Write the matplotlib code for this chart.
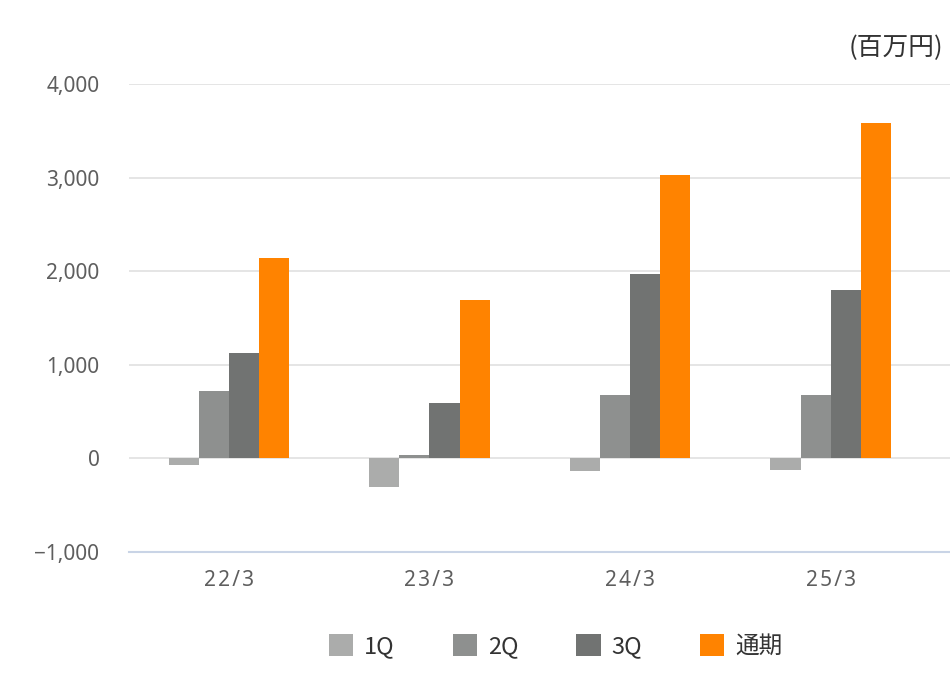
import matplotlib
matplotlib.use("Agg")
import matplotlib.pyplot as plt
from matplotlib.ticker import FuncFormatter
from matplotlib.patches import Patch
import numpy as np

plt.rcParams['font.family'] = ['Noto Sans CJK JP', 'DejaVu Sans']

categories = ["22/3", "23/3", "24/3", "25/3"]
series_names = ["1Q", "2Q", "3Q", "通期"]
q1 = [-75, -309, -137, -119]
q2 = [722, 32, 679, 679]
q3 = [1131, 593, 1972, 1796]
full_year = [2144, 1692, 3028, 3588]
colors = ["#ABACAB", "#8E908F", "#717372", "#FF8300"]
unit_label = "(百万円)"
yticks = [-1000, 0, 1000, 2000, 3000, 4000]

fig = plt.figure(figsize=(9.5, 7), dpi=100)
ax = fig.add_axes([0.1354, 0.2114, 0.8646, 0.6686])

x = np.arange(len(categories))
w = 0.15
for i, (vals, c) in enumerate(zip([q1, q2, q3, full_year], colors)):
    ax.bar(x + (i - 1.5) * w, vals, width=w, color=c, zorder=3, linewidth=0)

ax.set_xlim(-0.5, 3.595)
ax.set_ylim(-1000, 4000)
ax.set_yticks(yticks)
ax.yaxis.set_major_formatter(FuncFormatter(lambda v, p: f"{int(v):,}".replace("-", "−")))
ax.grid(axis='y', color='#E3E3E3', linewidth=1.3, zorder=0)
for s in ['top', 'right', 'left']:
    ax.spines[s].set_visible(False)
ax.spines['bottom'].set_color('#C9D4E6')
ax.spines['bottom'].set_linewidth(1.5)
ax.tick_params(axis='both', length=0, colors='#5E5E5E')
ax.tick_params(axis='y', pad=21)
ax.tick_params(axis='x', pad=13)
ax.set_xticks(x)
ax.set_xticklabels(["\u200a".join(c) for c in categories])
for lab in ax.get_xticklabels() + ax.get_yticklabels():
    lab.set_fontfamily(['Noto Sans', 'DejaVu Sans'])
    lab.set_fontsize(15)

fig.text(0.993, 0.932, unit_label, ha='right', va='center', fontsize=18.5, color='#333333')

handles = [Patch(facecolor=c, edgecolor='none') for c in colors]
fig.legend(handles, series_names, loc='center', bbox_to_anchor=(0.585, 0.077), ncol=4,
           frameon=False, fontsize=17, handlelength=1.02, handleheight=1.02,
           handletextpad=0.47, columnspacing=2.46, labelcolor='#333333')

fig.savefig("out.png", dpi=100)
